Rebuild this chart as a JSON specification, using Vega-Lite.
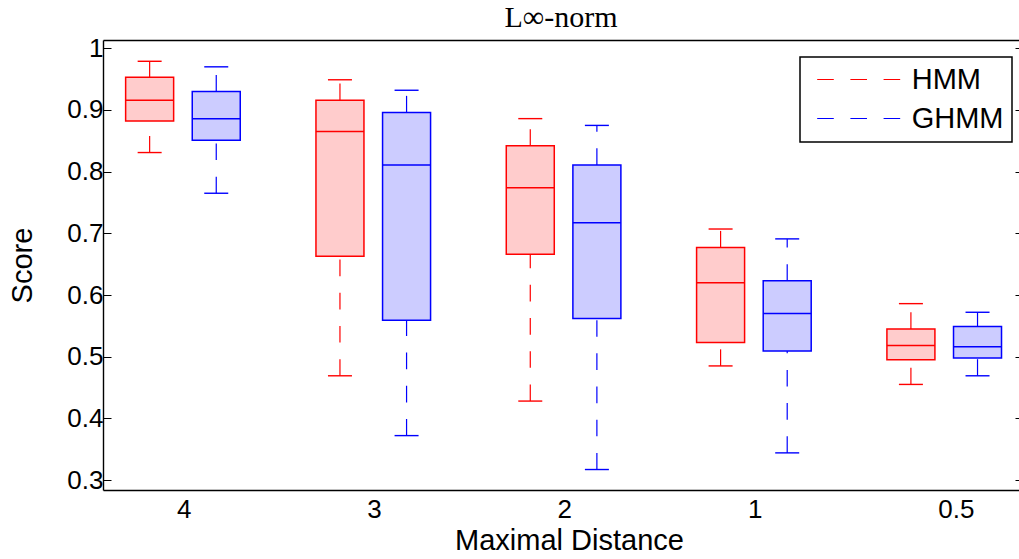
{
  "$schema": "https://vega.github.io/schema/vega-lite/v6.json",
  "autosize": "none",
  "padding": {"left": 103, "top": 40, "right": 0, "bottom": 69},
  "width": 916,
  "height": 450,
  "background": "white",
  "title": {"text": "L∞-norm", "font": "Liberation Serif", "fontSize": 30, "fontWeight": "normal", "color": "black", "baseline": "alphabetic", "offset": -22, "anchor": "middle", "frame": "group"},
  "config": {
    "view": {"stroke": null},
    "font": "Liberation Sans"
  },
  "data": {"values": [
    {"dist": "4", "model": "HMM", "lo": 0.831, "q1": 0.882, "med": 0.916, "q3": 0.953, "hi": 0.979},
    {"dist": "4", "model": "GHMM", "lo": 0.765, "q1": 0.851, "med": 0.886, "q3": 0.930, "hi": 0.970},
    {"dist": "3", "model": "HMM", "lo": 0.469, "q1": 0.663, "med": 0.865, "q3": 0.916, "hi": 0.949},
    {"dist": "3", "model": "GHMM", "lo": 0.372, "q1": 0.559, "med": 0.811, "q3": 0.896, "hi": 0.932},
    {"dist": "2", "model": "HMM", "lo": 0.428, "q1": 0.666, "med": 0.774, "q3": 0.842, "hi": 0.886},
    {"dist": "2", "model": "GHMM", "lo": 0.317, "q1": 0.562, "med": 0.717, "q3": 0.811, "hi": 0.875},
    {"dist": "1", "model": "HMM", "lo": 0.485, "q1": 0.523, "med": 0.620, "q3": 0.677, "hi": 0.707},
    {"dist": "1", "model": "GHMM", "lo": 0.344, "q1": 0.509, "med": 0.570, "q3": 0.623, "hi": 0.691},
    {"dist": "0.5", "model": "HMM", "lo": 0.455, "q1": 0.495, "med": 0.518, "q3": 0.545, "hi": 0.586},
    {"dist": "0.5", "model": "GHMM", "lo": 0.469, "q1": 0.498, "med": 0.516, "q3": 0.549, "hi": 0.572}
  ]},
  "layer": [
    {
      "encoding": {
        "x": {"field": "dist", "type": "nominal", "sort": ["4", "3", "2", "1", "0.5"],
          "scale": {"paddingInner": 0.3, "paddingOuter": 0.0565, "align": 0.62},
          "axis": {"title": "Maximal Distance", "titleFontSize": 29, "titleFontWeight": "normal", "titleColor": "black", "titlePadding": 4, "titleX": 466,
            "labelFontSize": 26, "labelColor": "black", "labelAngle": 0, "labelAlign": "left", "labelOffset": -6, "labelPadding": 6,
            "ticks": false, "domainColor": "black", "domainWidth": 1.4}},
        "xOffset": {"field": "model", "type": "nominal", "sort": ["HMM", "GHMM"], "scale": {"paddingInner": 0, "paddingOuter": 0}}
      },
      "layer": [
        {
          "mark": {"type": "rule", "strokeDash": [16.6, 16.6], "strokeWidth": 1.2},
          "encoding": {
            "y": {"field": "lo", "type": "quantitative", "scale": {"domain": [0.2838, 1.0135], "nice": false, "zero": false},
              "axis": {"title": "Score", "titleFontSize": 29, "titleFontWeight": "normal", "titleColor": "black", "titlePadding": 29,
                "values": [0.3, 0.4, 0.5, 0.6, 0.7, 0.8, 0.9, 1], "format": ".1~f",
                "labelFontSize": 26, "labelColor": "black", "labelPadding": 8, "tickSize": -8, "tickColor": "black", "tickWidth": 1,
                "domainColor": "black", "domainWidth": 1.4, "grid": false}},
            "y2": {"field": "q1"},
            "stroke": {"field": "model", "type": "nominal", "sort": ["HMM", "GHMM"],
              "scale": {"domain": ["HMM", "GHMM"], "range": ["#ff0000", "#0000ff"]},
              "legend": {"title": null, "orient": "none", "legendX": 697, "legendY": 17,
                "strokeColor": "black", "fillColor": "white", "padding": 8,
                "symbolType": "M-0.64,0H9.36", "symbolSize": 276, "symbolStrokeWidth": 1.2, "symbolDash": [16.6, 16.6],
                "labelFontSize": 29, "labelColor": "black", "labelOffset": 74.7, "rowPadding": 9,
                "encode": {
                  "symbols": {"update": {"stroke": {"scale": "stroke", "field": "value"}, "strokeDash": {"value": [16.6, 16.6]}}},
                  "legend": {"update": {"strokeWidth": {"value": 1.5}}}
                }}}
          }
        },
        {
          "mark": {"type": "rule", "strokeDash": [16.6, 16.6], "strokeWidth": 1.2},
          "encoding": {
            "y": {"field": "q3", "type": "quantitative"},
            "y2": {"field": "hi"},
            "stroke": {"field": "model", "type": "nominal"}
          }
        },
        {
          "mark": {"type": "bar", "size": 48, "strokeWidth": 1.5},
          "encoding": {
            "y": {"field": "q1", "type": "quantitative"},
            "y2": {"field": "q3"},
            "stroke": {"field": "model", "type": "nominal"},
            "fill": {"field": "model", "type": "nominal", "scale": {"domain": ["HMM", "GHMM"], "range": ["#ffcccc", "#ccccff"]}, "legend": null}
          }
        },
        {
          "mark": {"type": "tick", "size": 48, "thickness": 1.5, "opacity": 1},
          "encoding": {
            "y": {"field": "med", "type": "quantitative"},
            "color": {"field": "model", "type": "nominal", "scale": {"domain": ["HMM", "GHMM"], "range": ["#ff0000", "#0000ff"]}, "legend": null}
          }
        },
        {
          "mark": {"type": "tick", "size": 24, "thickness": 1.4, "opacity": 1},
          "encoding": {
            "y": {"field": "lo", "type": "quantitative"},
            "color": {"field": "model", "type": "nominal", "legend": null}
          }
        },
        {
          "mark": {"type": "tick", "size": 24, "thickness": 1.4, "opacity": 1},
          "encoding": {
            "y": {"field": "hi", "type": "quantitative"},
            "color": {"field": "model", "type": "nominal", "legend": null}
          }
        }
      ]
    },
    {
      "mark": {"type": "tick", "opacity": 0},
      "encoding": {
        "x": {"field": "dist", "type": "nominal", "sort": ["4", "3", "2", "1", "0.5"],
          "axis": {"orient": "top", "title": null, "labels": false, "ticks": false, "domainColor": "black", "domainWidth": 1.4}},
        "y": {"field": "hi", "type": "quantitative", "scale": {"domain": [0.2838, 1.0135], "nice": false, "zero": false},
          "axis": {"orient": "right", "title": null, "labels": false, "domain": false,
            "values": [0.3, 0.4, 0.5, 0.6, 0.7, 0.8, 0.9, 1], "tickSize": -4, "tickColor": "black", "tickWidth": 1, "grid": false}}
      }
    }
  ],
  "resolve": {"axis": {"y": "independent", "x": "independent"}}
}
